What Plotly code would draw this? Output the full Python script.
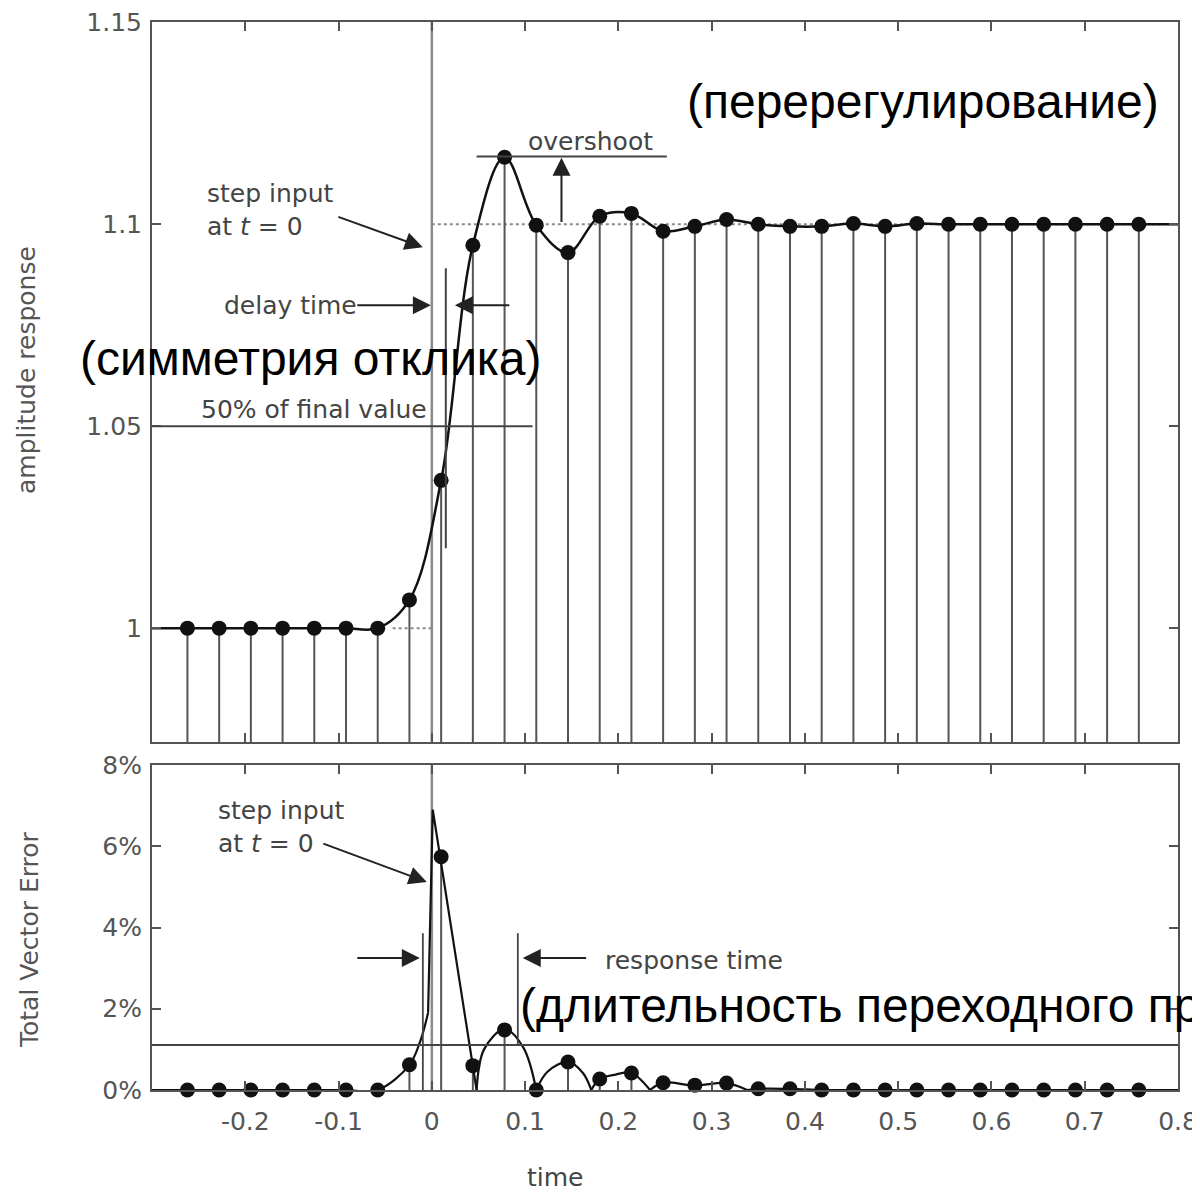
import plotly.graph_objects as go

# ---------------- data ----------------
sample_t = [-0.262, -0.228, -0.194, -0.160, -0.126, -0.092, -0.058, -0.024,
            0.010, 0.044, 0.078, 0.112, 0.146, 0.180, 0.214, 0.248, 0.282,
            0.316, 0.350, 0.384, 0.418, 0.452, 0.486, 0.520, 0.554, 0.588,
            0.622, 0.656, 0.690, 0.724, 0.758]
amplitude = [1.000, 1.000, 1.000, 1.000, 1.000, 1.000, 1.000, 1.007,
             1.0366, 1.0948, 1.1166, 1.0998, 1.0930, 1.1020, 1.1027, 1.0983,
             1.0995, 1.1012, 1.1000, 1.0995, 1.0995, 1.1002, 1.0995, 1.1002,
             1.1000, 1.1000, 1.1000, 1.1000, 1.1000, 1.1000, 1.1000]
tve_pct = [0, 0, 0, 0, 0, 0, 0, 0.62,
           5.74, 0.60, 1.48, 0, 0.69, 0.27, 0.42, 0.18, 0.12,
           0.17, 0.03, 0.03, 0, 0, 0, 0, 0, 0, 0, 0, 0, 0, 0]

# continuous reconstruction of the amplitude (extends to plot edges)
amp_curve_t = [-0.30] + sample_t + [0.80]
amp_curve_v = [1.0] + amplitude + [1.1]

# TVE curve, arcs between zero crossings
tve_arcs_t = [-0.30, -0.262, -0.228, -0.194, -0.160, -0.126, -0.092, -0.058, -0.024, -0.012, -0.004, None,
              0.048, 0.056, 0.078, 0.098, 0.112, None,
              0.112, 0.124, 0.146, 0.162, 0.171, None,
              0.171, 0.180, 0.197, 0.214, 0.234, None,
              0.234, 0.248, 0.282, 0.316, 0.338, None,
              0.338, 0.350, 0.384, 0.418, 0.452, 0.80]
tve_arcs_v = [0, 0, 0, 0, 0, 0, 0, 0, 0.62, 1.23, 1.9, None,
              0, 1.0, 1.5, 1.05, 0, None,
              0, 0.45, 0.69, 0.42, 0, None,
              0, 0.27, 0.38, 0.42, 0, None,
              0, 0.18, 0.11, 0.17, 0, None,
              0, 0.03, 0.03, 0, 0, 0]
tve_spike_t = [-0.004, 0.001, 0.048]
tve_spike_v = [1.9, 6.9, 0]

x_ticks = [-0.2, -0.1, 0, 0.1, 0.2, 0.3, 0.4, 0.5, 0.6, 0.7, 0.8]
x_ticktext = ["-0.2", "-0.1", "0", "0.1", "0.2", "0.3", "0.4", "0.5", "0.6", "0.7", "0.8"]
amp_ticks = [1.0, 1.05, 1.1, 1.15]
amp_ticktext = ["1", "1.05", "1.1", "1.15"]
tve_ticks = [0, 2, 4, 6, 8]
tve_ticktext = ["0%", "2%", "4%", "6%", "8%"]

initial_value = 1.0
final_value = 1.1
half_value = 1.05
tve_limit = 1.108

# ---------------- styling ----------------
X_RANGE = [-0.3, 0.8]
AMP_RANGE = [0.9718, 1.1501]
TVE_RANGE = [0, 8]
AX = "#555555"
INK = "#111111"
STEM = "#555555"
GUIDE = "#8a8a8a"
FONT = "DejaVu Sans"
RU_FONT = "Liberation Sans"

fig = go.Figure()

# top panel stems (dot down to axis bottom)
sx, sy = [], []
for ti, v in zip(sample_t, amplitude):
    sx += [ti, ti, None]
    sy += [v, AMP_RANGE[0], None]
fig.add_trace(go.Scatter(x=sx, y=sy, mode="lines", xaxis="x2", yaxis="y2",
                         line=dict(color=STEM, width=2), hoverinfo="skip"))
fig.add_trace(go.Scatter(x=amp_curve_t, y=amp_curve_v, mode="lines", xaxis="x2", yaxis="y2",
                         line=dict(color=INK, width=2.5, shape="spline", smoothing=1.0)))
fig.add_trace(go.Scatter(x=sample_t, y=amplitude, mode="markers", xaxis="x2", yaxis="y2",
                         marker=dict(color=INK, size=15), cliponaxis=False))

# bottom panel stems
bx, by = [], []
for ti, v in zip(sample_t, tve_pct):
    if v > 0:
        bx += [ti, ti, None]
        by += [v, 0, None]
fig.add_trace(go.Scatter(x=bx, y=by, mode="lines", xaxis="x", yaxis="y",
                         line=dict(color=STEM, width=2), hoverinfo="skip"))
fig.add_trace(go.Scatter(x=tve_arcs_t, y=tve_arcs_v, mode="lines", xaxis="x", yaxis="y",
                         connectgaps=False,
                         line=dict(color=INK, width=2.2, shape="spline", smoothing=1.0)))
fig.add_trace(go.Scatter(x=tve_spike_t, y=tve_spike_v, mode="lines", xaxis="x", yaxis="y",
                         line=dict(color=INK, width=2.2)))
fig.add_trace(go.Scatter(x=sample_t, y=tve_pct, mode="markers", xaxis="x", yaxis="y",
                         marker=dict(color=INK, size=15), cliponaxis=False))

shapes = []
# t = 0 line in both panels
shapes.append(dict(type="line", xref="x2", yref="y2 domain", x0=0, x1=0, y0=0, y1=1,
                   line=dict(color=GUIDE, width=2.5), layer="below"))
shapes.append(dict(type="line", xref="x", yref="y domain", x0=0, x1=0, y0=0, y1=1,
                   line=dict(color=GUIDE, width=2.5), layer="below"))
# dotted reference levels
shapes.append(dict(type="line", xref="x2", yref="y2", x0=-0.042, x1=0, y0=initial_value, y1=initial_value,
                   line=dict(color=GUIDE, width=2, dash="dot")))
shapes.append(dict(type="line", xref="x2", yref="y2", x0=0, x1=0.8, y0=final_value, y1=final_value,
                   line=dict(color=GUIDE, width=2, dash="dot"), layer="below"))
# 50 % of final value
shapes.append(dict(type="line", xref="x2", yref="y2", x0=-0.3, x1=0.108, y0=half_value, y1=half_value,
                   line=dict(color="#444", width=2)))
# delay marker
shapes.append(dict(type="line", xref="x2", yref="y2", x0=0.015, x1=0.015, y0=1.0198, y1=1.0891,
                   line=dict(color="#444", width=2)))
# overshoot line
shapes.append(dict(type="line", xref="x2", yref="y2", x0=0.048, x1=0.252, y0=1.1168, y1=1.1168,
                   line=dict(color="#444", width=2)))
# TVE limit
shapes.append(dict(type="line", xref="x", yref="y", x0=-0.3, x1=0.8, y0=tve_limit, y1=tve_limit,
                   line=dict(color="#444", width=2)))
# response-time markers
shapes.append(dict(type="line", xref="x", yref="y", x0=-0.0096, x1=-0.0096, y0=0, y1=3.86,
                   line=dict(color="#444", width=1.8)))
shapes.append(dict(type="line", xref="x", yref="y", x0=0.0922, x1=0.0922, y0=tve_limit, y1=3.86,
                   line=dict(color="#444", width=1.8)))


def arrow(xref, yref, tail, head):
    return dict(xref=xref, yref=yref, axref=xref, ayref=yref,
                x=head[0], y=head[1], ax=tail[0], ay=tail[1], text="",
                showarrow=True, arrowhead=2, arrowsize=1.8, arrowwidth=2,
                arrowcolor="#222", standoff=0, startstandoff=0)


# page-pixel -> paper coordinates (plot area spans x 152..1178, y 22..1090 on the page)
def px_to_paper(xp, yp):
    return (xp - 152) / 1026.0, (1090 - yp) / 1068.0


def label(text, xp, yp, size=25, color="#444", font=FONT, xanchor="center", angle=0, align="left"):
    x, y = px_to_paper(xp, yp)
    return dict(xref="paper", yref="paper", x=x, y=y, text=text, showarrow=False,
                xanchor=xanchor, yanchor="middle", textangle=angle, align=align,
                font=dict(family=font, size=size, color=color))


annotations = [
    # top panel
    label("step input<br>at <i>t</i> = 0", 205, 210, xanchor="left"),
    arrow("x2", "y2", (-0.1018, 1.10197), (-0.00965, 1.0943)),
    label("delay time", 290, 305),
    arrow("x2", "y2", (-0.0815, 1.07994), (-0.001, 1.07994)),
    arrow("x2", "y2", (0.0847, 1.07994), (0.0247, 1.07994)),
    label("50% of final value", 314, 409),
    label("overshoot", 590, 141),
    arrow("x2", "y2", (0.139, 1.1002), (0.139, 1.1165)),
    label("(перерегулирование)", 685, 102, size=48, color="#000", font=RU_FONT, xanchor="left"),
    label("(симметрия отклика)", 78, 358, size=48, color="#000", font=RU_FONT, xanchor="left"),
    # bottom panel
    label("step input<br>at <i>t</i> = 0", 216, 827, xanchor="left"),
    arrow("x", "y", (-0.1179, 6.08), (-0.0054, 5.12)),
    arrow("x", "y", (-0.0815, 3.25), (-0.0129, 3.25)),
    arrow("x", "y", (0.167, 3.25), (0.0975, 3.25)),
    label("response time", 603, 960, xanchor="left"),
    label("(длительность переходного процесса)", 518, 1005, size=48, color="#000",
          font=RU_FONT, xanchor="left"),
    # axis titles
    label("amplitude response", 26, 370, angle=-90, color="#555"),
    label("Total Vector Error", 29, 940, angle=-90, color="#555"),
    label("time", 555, 1177, color="#444"),
]

axis_common = dict(showline=True, linecolor=AX, linewidth=2, mirror="ticks",
                   ticks="inside", ticklen=9, tickwidth=2, tickcolor=AX,
                   showgrid=False, zeroline=False, automargin=False,
                   ticklabeloverflow="allow",
                   tickfont=dict(family=FONT, size=25, color="#555"))

# the page body adds an 8 px offset, so margins are reduced by 8 on top/left
fig.update_layout(
    width=1200, height=1192,
    margin=dict(l=144, r=30, t=14, b=110),
    paper_bgcolor="white", plot_bgcolor="white",
    showlegend=False,
    xaxis=dict(domain=[0, 1], anchor="y", range=X_RANGE, tickmode="array",
               tickvals=x_ticks, ticktext=x_ticktext, ticklabelstandoff=8, **axis_common),
    yaxis=dict(domain=[0, 0.3043], anchor="x", range=TVE_RANGE, tickmode="array",
               tickvals=tve_ticks, ticktext=tve_ticktext, ticklabelstandoff=3, **axis_common),
    xaxis2=dict(domain=[0, 1], anchor="y2", matches="x", range=X_RANGE, tickmode="array",
                tickvals=x_ticks, showticklabels=False, **axis_common),
    yaxis2=dict(domain=[0.3258, 1], anchor="x2", range=AMP_RANGE, tickmode="array",
                tickvals=amp_ticks, ticktext=amp_ticktext, ticklabelstandoff=3, **axis_common),
    shapes=shapes,
    annotations=annotations,
)

fig.write_html("out.html")
